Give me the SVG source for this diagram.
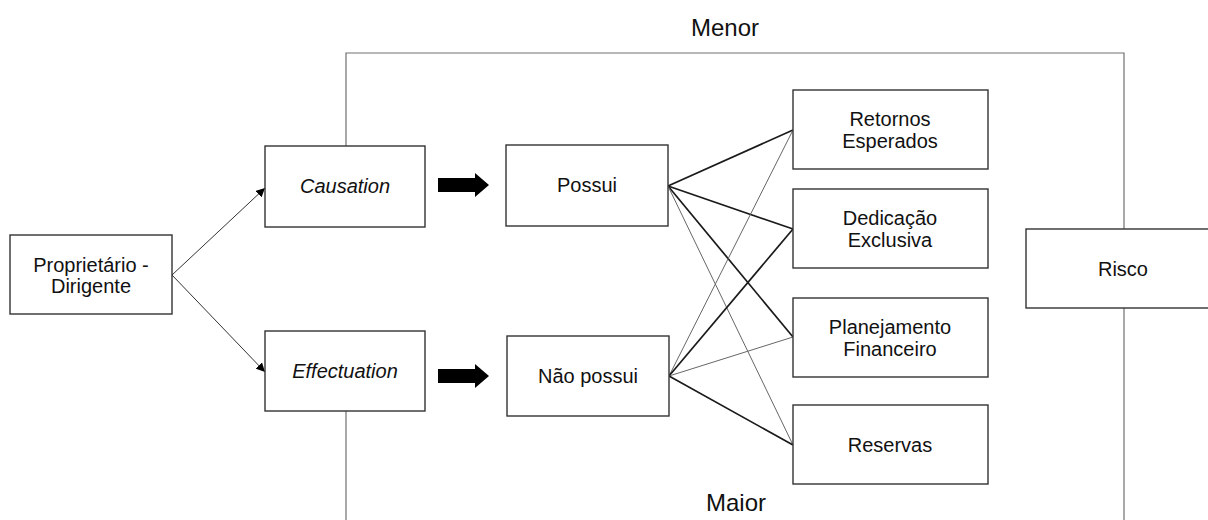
<svg xmlns="http://www.w3.org/2000/svg" width="1208" height="520" viewBox="0 0 1208 520">
  <style>
    .box { fill: #ffffff; stroke: #333333; stroke-width: 1.4; }
    .lbl { font-family: "Liberation Sans", Arial, sans-serif; font-size: 20px; fill: #111111; text-anchor: middle; }
    .it { font-style: italic; }
    .big { font-family: "Liberation Sans", Arial, sans-serif; font-size: 24px; fill: #111111; text-anchor: middle; }
    .frame { fill: none; stroke: #707070; stroke-width: 1.2; }
    .thin-arrow { stroke: #333333; stroke-width: 1; fill: none; marker-end: url(#tip); }
    .strong { stroke: #1a1a1a; stroke-width: 1.7; fill: none; }
    .weak { stroke: #666666; stroke-width: 1; fill: none; }
    .block { fill: #000000; }
  </style>
  <defs>
    <marker id="tip" viewBox="0 0 10 10" refX="10" refY="5" markerWidth="9" markerHeight="9" markerUnits="userSpaceOnUse" orient="auto">
      <path d="M0,0 L10,5 L0,10 z" fill="#000000"/>
    </marker>
  </defs>

  <rect width="1208" height="520" fill="#ffffff"/>

  <!-- risk frame -->
  <g id="frame">
    <polyline class="frame" points="346,146 346,53 1124,53 1124,229"/>
    <line class="frame" x1="1124" y1="308" x2="1124" y2="520"/>
    <line class="frame" x1="346" y1="411" x2="346" y2="520"/>
    <text class="big" x="725" y="36">Menor</text>
    <text class="big" x="736" y="511">Maior</text>
  </g>

  <!-- connectors -->
  <g id="connectors">
    <line class="thin-arrow" x1="172" y1="275" x2="265" y2="188"/>
    <line class="thin-arrow" x1="172" y1="275" x2="265" y2="372"/>
    <path class="block" d="M438,178 L475,178 L475,173 L489,185 L475,197 L475,192 L438,192 z"/>
    <path class="block" d="M438,369 L475,369 L475,364 L489,376 L475,388 L475,383 L438,383 z"/>
    <!-- from Possui -->
    <line class="strong" x1="668" y1="186" x2="793" y2="130"/>
    <line class="strong" x1="668" y1="186" x2="793" y2="229"/>
    <line class="strong" x1="668" y1="186" x2="793" y2="337"/>
    <line class="weak" x1="668" y1="186" x2="793" y2="445"/>
    <!-- from Não possui -->
    <line class="weak" x1="669" y1="376" x2="793" y2="130"/>
    <line class="strong" x1="669" y1="376" x2="793" y2="229"/>
    <line class="weak" x1="669" y1="376" x2="793" y2="337"/>
    <line class="strong" x1="669" y1="376" x2="793" y2="445"/>
  </g>

  <g id="proprietario">
    <rect class="box" x="10" y="235" width="162" height="79"/>
    <text class="lbl" x="91" y="272">Proprietário -</text>
    <text class="lbl" x="91" y="293">Dirigente</text>
  </g>

  <g id="causation">
    <rect class="box" x="265" y="146" width="160" height="81"/>
    <text class="lbl it" x="345" y="193">Causation</text>
  </g>

  <g id="effectuation">
    <rect class="box" x="265" y="331" width="160" height="80"/>
    <text class="lbl it" x="345" y="378">Effectuation</text>
  </g>

  <g id="possui">
    <rect class="box" x="506" y="145" width="162" height="81"/>
    <text class="lbl" x="587" y="192">Possui</text>
  </g>

  <g id="nao-possui">
    <rect class="box" x="507" y="336" width="162" height="80"/>
    <text class="lbl" x="588" y="383">Não possui</text>
  </g>

  <g id="retornos">
    <rect class="box" x="793" y="90" width="195" height="79"/>
    <text class="lbl" x="890" y="126">Retornos</text>
    <text class="lbl" x="890" y="148">Esperados</text>
  </g>

  <g id="dedicacao">
    <rect class="box" x="793" y="189" width="195" height="79"/>
    <text class="lbl" x="890" y="225">Dedicação</text>
    <text class="lbl" x="890" y="247">Exclusiva</text>
  </g>

  <g id="planejamento">
    <rect class="box" x="793" y="298" width="195" height="79"/>
    <text class="lbl" x="890" y="334">Planejamento</text>
    <text class="lbl" x="890" y="356">Financeiro</text>
  </g>

  <g id="reservas">
    <rect class="box" x="793" y="405" width="195" height="79"/>
    <text class="lbl" x="890" y="452">Reservas</text>
  </g>

  <g id="risco">
    <rect class="box" x="1026" y="229" width="200" height="79"/>
    <text class="lbl" x="1123" y="276">Risco</text>
  </g>
</svg>
